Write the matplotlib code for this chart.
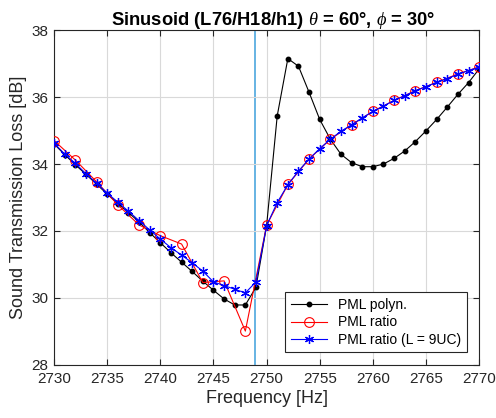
import matplotlib

matplotlib.use("Agg")
import matplotlib.pyplot as plt
import numpy as np

plt.rcParams["font.family"] = ["Liberation Sans", "DejaVu Sans"]
plt.rcParams["mathtext.fontset"] = "custom"
plt.rcParams["mathtext.it"] = "Liberation Serif:italic"

# PML polyn. (every 1 Hz, 2730..2770)
freq_poly = np.arange(2730, 2771)
stl_poly = [34.60, 34.28, 33.98, 33.69, 33.40, 33.10, 32.82, 32.55, 32.27, 31.95,
            31.65, 31.35, 31.07, 30.79, 30.50, 30.23, 29.97, 29.79, 29.79, 30.32,
            32.16, 35.44, 37.15, 36.92, 36.14, 35.33, 34.74, 34.29, 34.04, 33.92,
            33.92, 34.00, 34.17, 34.39, 34.67, 34.99, 35.33, 35.70, 36.08, 36.43,
            36.84]

# PML ratio (every 2 Hz)
freq_ratio = np.arange(2730, 2771, 2)
stl_ratio = [34.70, 34.12, 33.47, 32.78, 32.18, 31.86, 31.61, 30.46, 30.51, 29.01,
             32.17, 33.39, 34.15, 34.74, 35.17, 35.57, 35.90, 36.19, 36.44, 36.69,
             36.90]

# PML ratio (L = 9UC), every 1 Hz
freq_9uc = np.arange(2730, 2771)
stl_9uc = [34.62, 34.30, 34.02, 33.71, 33.43, 33.13, 32.86, 32.59, 32.31, 32.03,
           31.76, 31.50, 31.28, 31.05, 30.80, 30.48, 30.37, 30.26, 30.15, 30.48,
           32.16, 32.85, 33.38, 33.79, 34.15, 34.46, 34.74, 34.98, 35.17, 35.38,
           35.57, 35.73, 35.90, 36.04, 36.19, 36.31, 36.44, 36.55, 36.68, 36.79,
           36.89]

f_marker = 2748.9

fig = plt.figure(figsize=(4.96, 4.18), dpi=100)
ax = fig.add_axes([0.109, 0.127, 0.857, 0.801])

ax.axvline(f_marker, color="#5AAEE0", linewidth=1.3, zorder=1)
ax.plot(freq_poly, stl_poly, color="black", linewidth=0.8, marker="o",
        markersize=3.2, label="PML polyn.", zorder=3)
ax.plot(freq_ratio, stl_ratio, color="red", linewidth=0.8, marker="o",
        markersize=7, markerfacecolor="none", markeredgewidth=0.8,
        label="PML ratio", zorder=4)
ax.plot(freq_9uc, stl_9uc, color="blue", linewidth=0.8, marker=(6, 2, 0),
        markersize=6.5, markeredgewidth=0.9, label="PML ratio (L = 9UC)", zorder=5)

ax.set_xlim(2730, 2770)
ax.set_ylim(28, 38)
ax.set_xticks(np.arange(2730, 2771, 5))
ax.set_yticks(np.arange(28, 39, 2))
ax.grid(True, color="#d9d9d9", linewidth=0.8)
ax.tick_params(direction="in", top=True, right=True, labelsize=11,
               length=4, width=0.8, colors="#262626")
ax.tick_params(axis="y", pad=4)
ax.tick_params(axis="x", pad=5)
for sp in ax.spines.values():
    sp.set_color("#262626")
    sp.set_linewidth(0.8)

ax.set_xlabel("Frequency [Hz]", fontsize=13, color="#262626", labelpad=3)
ax.set_ylabel("Sound Transmission Loss [dB]", fontsize=13, color="#262626",
              labelpad=3)
ax.set_title(r"Sinusoid (L76/H18/h1) $\theta$ = 60°, $\phi$ = 30°",
             fontsize=13.2, fontweight="bold", pad=4, x=0.515)

leg = ax.legend(loc="lower right", fontsize=10, fancybox=False,
                edgecolor="#262626", framealpha=1, borderaxespad=0.9,
                handlelength=2.6, labelspacing=0.25)
leg.get_frame().set_linewidth(0.8)

fig.savefig("out.png", dpi=100)
